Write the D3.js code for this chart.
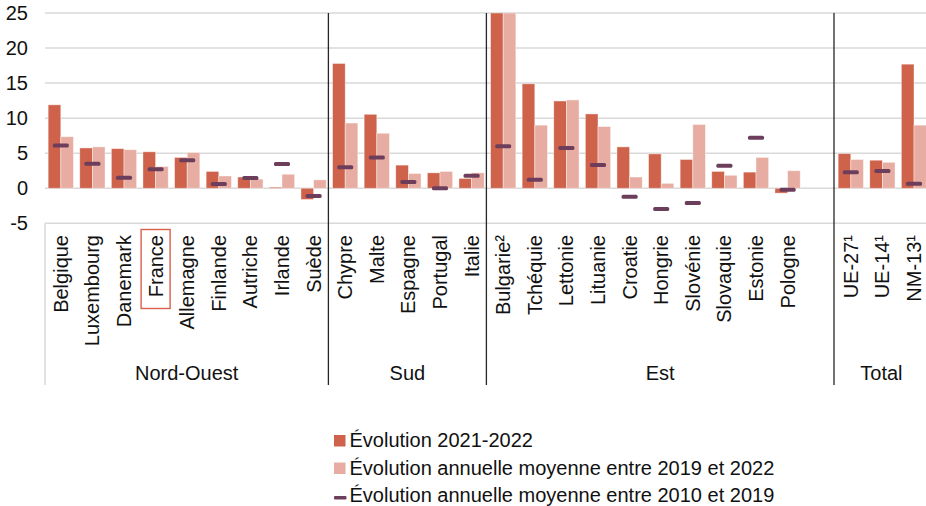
<!DOCTYPE html>
<html>
<head>
<meta charset="utf-8">
<script src="https://cdn.jsdelivr.net/npm/d3@7"></script>
<style>
  html, body { margin: 0; padding: 0; background: #fff; }
  svg { display: block; font-family: "Liberation Sans", Arial, sans-serif; }
</style>
</head>
<body>
<svg id="chart" width="926" height="506"></svg>
<script>
// ---- Data ----
const categories = ["Belgique","Luxembourg","Danemark","France","Allemagne","Finlande","Autriche","Irlande","Suède",
  "Chypre","Malte","Espagne","Portugal","Italie",
  "Bulgarie²","Tchéquie","Lettonie","Lituanie","Croatie","Hongrie","Slovénie","Slovaquie","Estonie","Pologne","",
  "UE-27¹","UE-14¹","NM-13¹"];
const evol2122 = [11.9,5.75,5.65,5.2,4.4,2.4,1.6,0.15,-1.6,
  17.8,10.55,3.3,2.2,1.4,
  25,14.9,12.45,10.6,5.9,4.9,4.1,2.4,2.3,-0.7,null,
  4.95,4.0,17.7];
const evol1922 = [7.35,5.9,5.5,3.1,5.1,1.75,1.3,2.0,1.2,
  9.3,7.85,2.1,2.4,2.2,
  25,9.0,12.6,8.8,1.6,0.7,9.1,1.85,4.4,2.5,null,
  4.1,3.7,9.0];
const evol1019 = [6.1,3.5,1.5,2.7,4.0,0.6,1.45,3.45,-1.1,
  3.0,4.4,0.9,0.0,1.8,
  6.0,1.2,5.75,3.3,-1.2,-2.95,-2.1,3.2,7.2,-0.2,null,
  2.3,2.45,0.65];
const groups = ["Nord-Ouest","Sud","Est","Total"];
const groupSizes = [9,5,11,3];
const yTicks = [-5,0,5,10,15,20,25];
const highlighted = "France";
const legendLabels = ["Évolution 2021-2022",
  "Évolution annuelle moyenne entre 2019 et 2022",
  "Évolution annuelle moyenne entre 2010 et 2019"];

// ---- Styles ----
const C_DARK = "#cf624a", C_LIGHT = "#e8ada2", C_MARK = "#6d3e5c";
const FONT = 20;

const svg = d3.select("#chart");
const left = 45, step = 31.6;
const right = left + step * categories.length;
const plotTop = 13, plotBottom = 223.3, axisBottom = 385;

const x = d3.scaleBand().domain(d3.range(categories.length))
  .range([left, right]).paddingInner(0.2).paddingOuter(0.1);
const y = d3.scaleLinear().domain([-5, 25]).range([plotBottom, plotTop]);
const xs = d3.scaleBand().domain([0,1]).range([0, x.bandwidth()]);

// gridlines
svg.append("g").selectAll("line").data(yTicks).join("line")
  .attr("x1", left).attr("x2", 926)
  .attr("y1", d => y(d)).attr("y2", d => y(d))
  .attr("stroke", "#d9d9d9").attr("stroke-width", 1.5);

// y labels
svg.append("g").selectAll("text").data(yTicks).join("text")
  .attr("x", 28).attr("y", d => y(d)).attr("dy", "0.35em")
  .attr("text-anchor", "end").attr("font-size", FONT).attr("fill", "#111")
  .text(d => d);

// clip
svg.append("clipPath").attr("id", "plotclip").append("rect")
  .attr("x", left).attr("y", plotTop).attr("width", 926 - left).attr("height", plotBottom - plotTop);

const plot = svg.append("g").attr("clip-path", "url(#plotclip)");
const idx = d3.range(categories.length);

[evol2122, evol1922].forEach((series, si) => {
  plot.append("g").selectAll("rect").data(idx.filter(i => series[i] !== null)).join("rect")
    .attr("x", i => x(i) + xs(si))
    .attr("width", xs.bandwidth())
    .attr("y", i => y(Math.max(0, series[i])))
    .attr("height", i => Math.abs(y(series[i]) - y(0)))
    .attr("fill", si === 0 ? C_DARK : C_LIGHT)
    .attr("stroke", "#fff").attr("stroke-opacity", 0.5).attr("stroke-width", 0.8);
});

plot.append("g").selectAll("rect").data(idx.filter(i => evol1019[i] !== null)).join("rect")
  .attr("x", i => x(i) + x.bandwidth() / 2 - 8)
  .attr("width", 16)
  .attr("y", i => y(evol1019[i]) - 2)
  .attr("height", 4).attr("rx", 1.5)
  .attr("fill", C_MARK);

// category axis frame
svg.append("line").attr("x1", left).attr("x2", left).attr("y1", plotBottom).attr("y2", axisBottom)
  .attr("stroke", "#d9d9d9").attr("stroke-width", 1.5);

// group separators
let acc = 0;
const bounds = [];
groupSizes.forEach(n => { bounds.push([acc, acc + n]); acc += n; });
const sepX = i => left + step * i - 1;
svg.append("g").selectAll("line").data(bounds.slice(1)).join("line")
  .attr("x1", d => sepX(d[0])).attr("x2", d => sepX(d[0]))
  .attr("y1", plotTop).attr("y2", axisBottom)
  .attr("stroke", "#262626").attr("stroke-width", 1.3);

// category labels
const labelTop = 235;
svg.append("g").selectAll("text").data(idx.filter(i => categories[i] !== "")).join("text")
  .attr("transform", i => `translate(${x(i) + x.bandwidth() / 2},${labelTop}) rotate(-90)`)
  .attr("dy", "0.35em").attr("text-anchor", "end")
  .attr("font-size", FONT).attr("fill", "#111")
  .text(i => categories[i]);

// highlight box
const hi = categories.indexOf(highlighted);
svg.append("rect")
  .attr("x", x(hi) + x.bandwidth() / 2 - 14.5).attr("y", 229.5)
  .attr("width", 29).attr("height", 79)
  .attr("fill", "none").attr("stroke", "#d9604a").attr("stroke-width", 1.4);

// group labels
svg.append("g").selectAll("text").data(groups).join("text")
  .attr("x", (g, k) => (Math.max(left, sepX(bounds[k][0])) + Math.min(right, sepX(bounds[k][1]))) / 2)
  .attr("y", 380).attr("text-anchor", "middle")
  .attr("font-size", FONT).attr("fill", "#111")
  .text(g => g);

// legend
const lg = svg.append("g");
const rows = lg.selectAll("g").data(legendLabels).join("g")
  .attr("transform", (d, k) => `translate(334,${447 + k * 27.5})`);
rows.each(function(d, k) {
  const r = d3.select(this);
  if (k < 2) {
    r.append("rect").attr("x", 0).attr("y", -12).attr("width", 11.5).attr("height", 11.5)
      .attr("fill", k === 0 ? C_DARK : C_LIGHT);
  } else {
    r.append("rect").attr("x", 0).attr("y", -6).attr("width", 12.5).attr("height", 3.5)
      .attr("rx", 1).attr("fill", C_MARK);
  }
  r.append("text").attr("x", 15.5).attr("y", 0)
    .attr("font-size", FONT).attr("fill", "#111").text(d);
});
</script>
</body>
</html>
